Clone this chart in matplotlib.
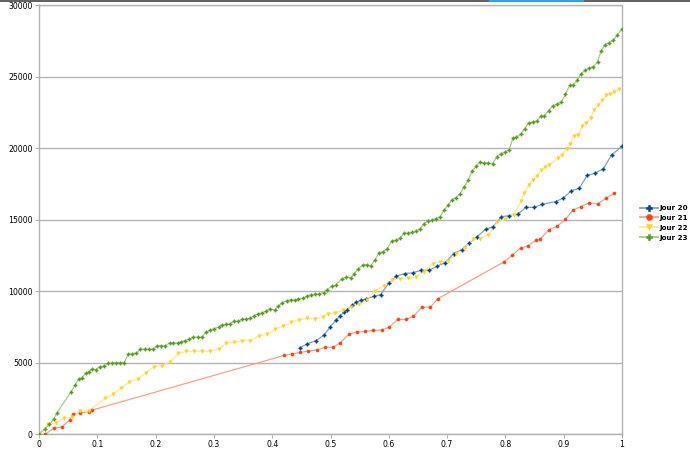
import matplotlib
matplotlib.use("Agg")
import matplotlib.pyplot as plt
from matplotlib.lines import Line2D

# ---- data ----
labels = ["Jour 20", "Jour 21", "Jour 22", "Jour 23"]

j20_x = [0.447, 0.460, 0.475, 0.489, 0.499, 0.509, 0.516, 0.523, 0.529, 0.537, 0.544, 0.553, 0.561,
         0.575, 0.586, 0.600, 0.612, 0.627, 0.641, 0.655, 0.669, 0.683, 0.697, 0.711, 0.725, 0.738,
         0.751, 0.766, 0.779, 0.793, 0.807, 0.821, 0.835, 0.849, 0.863, 0.886, 0.899, 0.913, 0.927,
         0.940, 0.954, 0.968, 0.982, 1.0]
j20_y = [6020, 6300, 6530, 6910, 7470, 7940, 8250, 8500, 8700, 8990, 9220, 9350, 9460,
         9630, 9740, 10560, 11030, 11220, 11270, 11450, 11450, 11730, 11990, 12620, 12880, 13370,
         13790, 14310, 14500, 15200, 15270, 15360, 15850, 15850, 16060, 16250, 16490, 17000, 17190,
         18080, 18240, 18550, 19510, 20120]

j21_x = [0.011, 0.025, 0.039, 0.053, 0.058, 0.071, 0.085, 0.091, 0.421, 0.434, 0.448, 0.462, 0.477,
         0.491, 0.504, 0.517, 0.532, 0.545, 0.559, 0.573, 0.588, 0.601, 0.615, 0.629, 0.642, 0.657,
         0.671, 0.684, 0.798, 0.812, 0.826, 0.839, 0.852, 0.859, 0.875, 0.889, 0.903, 0.916, 0.930,
         0.944, 0.958, 0.973, 0.986]
j21_y = [0, 400, 490, 970, 1380, 1470, 1560, 1670, 5500, 5600, 5710, 5800, 5880,
         6060, 6060, 6390, 7000, 7120, 7170, 7240, 7280, 7470, 8010, 8010, 8220, 8870,
         8870, 9460, 12040, 12510, 13020, 13140, 13560, 13610, 14300, 14540, 15010, 15670, 15900,
         16180, 16090, 16490, 16840]

j22_x = [0, 0.016, 0.029, 0.043, 0.057, 0.071, 0.085, 0.114, 0.127, 0.141, 0.155, 0.169, 0.183,
         0.197, 0.211, 0.225, 0.239, 0.253, 0.266, 0.280, 0.294, 0.308, 0.321, 0.335, 0.349, 0.362,
         0.377, 0.391, 0.405, 0.419, 0.432, 0.446, 0.460, 0.473, 0.487, 0.495, 0.508, 0.521, 0.535,
         0.549, 0.562, 0.576, 0.591, 0.605, 0.619, 0.633, 0.647, 0.660, 0.675, 0.688, 0.702, 0.716,
         0.731, 0.744, 0.757, 0.771, 0.786, 0.800, 0.814, 0.827, 0.832, 0.840, 0.847, 0.854, 0.861,
         0.868, 0.875, 0.890, 0.897, 0.905, 0.911, 0.918, 0.925, 0.932, 0.939, 0.946, 0.952, 0.959,
         0.966, 0.973, 0.980, 0.987, 0.994]
j22_y = [0, 700, 770, 1100, 1170, 1600, 1620, 2500, 2790, 3210, 3650, 3840, 4260,
         4710, 4780, 5060, 5640, 5780, 5780, 5780, 5780, 5950, 6350, 6420, 6530, 6530,
         6860, 6960, 7330, 7540, 7800, 7990, 8080, 8060, 8170, 8410, 8480, 8640, 8870,
         9080, 9390, 10000, 10330, 10770, 10870, 10900, 11000, 11350, 11900, 12030, 12100, 12600,
         13040, 13620, 13650, 13940, 14810, 15010, 15320, 16280, 16820, 17420, 17780, 18060, 18430,
         18670, 18830, 19300, 19530, 19930, 20310, 20870, 20890, 21570, 21760, 22110, 22650, 23020,
         23330, 23680, 23770, 23910, 24100]

j23_x = [0, 0.010, 0.018, 0.025, 0.031, 0.055, 0.062, 0.068, 0.073, 0.080, 0.086, 0.091, 0.098,
         0.104, 0.111, 0.119, 0.125, 0.132, 0.139, 0.146, 0.153, 0.160, 0.167, 0.174, 0.181, 0.189,
         0.196, 0.202, 0.209, 0.216, 0.224, 0.230, 0.238,
         0.244, 0.251, 0.258, 0.265, 0.272, 0.279, 0.286, 0.293, 0.300, 0.308, 0.314, 0.321, 0.328,
         0.334, 0.341, 0.348, 0.355, 0.362, 0.369, 0.376, 0.383, 0.389, 0.396, 0.404, 0.410, 0.417,
         0.425, 0.432, 0.439, 0.445, 0.452, 0.459, 0.466, 0.473, 0.480, 0.488, 0.494, 0.502, 0.509,
         0.519, 0.527, 0.535, 0.541, 0.548, 0.555, 0.562, 0.569, 0.576, 0.583, 0.590, 0.597, 0.605,
         0.612, 0.619, 0.626, 0.633, 0.639, 0.647, 0.654, 0.660, 0.667, 0.674, 0.681, 0.688, 0.695,
         0.702, 0.708, 0.715, 0.722, 0.729, 0.736,
         0.743, 0.750, 0.756, 0.763, 0.771, 0.778, 0.785, 0.792, 0.799, 0.806, 0.813, 0.819, 0.826,
         0.833, 0.840, 0.847, 0.854, 0.861, 0.867, 0.874, 0.881, 0.888, 0.896, 0.903, 0.910, 0.916,
         0.923, 0.930, 0.937, 0.944, 0.951, 0.958, 0.964, 0.971, 0.978, 0.985, 0.992, 1.0]
j23_y = [0, 350, 680, 1030, 1500, 2950, 3440, 3840, 3910, 4240, 4360, 4550, 4500,
         4710, 4750, 4940, 4940, 4990, 4990, 4990, 5570, 5620, 5640, 5950, 5920, 5920,
         5920, 6160, 6180, 6160, 6370, 6370, 6370,
         6460, 6530, 6630, 6770, 6770, 6750, 7120, 7240, 7360, 7470, 7640, 7660, 7710,
         7890, 7870, 8010, 8030, 8100, 8270, 8410, 8480, 8570, 8760, 8640, 8920, 9180,
         9320, 9400, 9350, 9440, 9490, 9630, 9740, 9770, 9790, 9890, 10100, 10330, 10400,
         10840, 10980, 10910, 11220, 11570, 11800, 11850, 11760, 12160, 12670, 12740, 12930, 13490,
         13540, 13680, 14030, 14030, 14100, 14190, 14350, 14690, 14920, 14970, 15060, 15200, 15670,
         16020, 16370, 16530, 16790, 17260, 17730,
         18410, 18710, 19020, 18950, 18950, 18900, 19370, 19600, 19700, 19880, 20680, 20750, 20980,
         21360, 21760, 21800, 21900, 22230, 22230, 22620, 22950, 23050, 23230, 23750, 24380, 24380,
         24730, 25200, 25440, 25580, 25690, 26020, 26790, 27230, 27370, 27540, 27910, 28310]

x_ticks = [0, 0.1, 0.2, 0.3, 0.4, 0.5, 0.6, 0.7, 0.8, 0.9, 1]
x_ticklabels = ["0", "0.1", "0.2", "0.3", "0.4", "0.5", "0.6", "0.7", "0.8", "0.9", "1"]
y_ticks = [0, 5000, 10000, 15000, 20000, 25000, 30000]

# ---- styling ----
colors = ["#004586", "#ff420e", "#ffd320", "#579d1c"]
light = ["#7fa2c3", "#ff9f86", "#ffe98f", "#a9cc8c"]
markers = ["P", "o", "v", "P"]
msizes = [2.5, 2.3, 2.6, 2.4]

fig = plt.figure(figsize=(6.9, 4.55), dpi=100)
ax = fig.add_axes([39 / 690, 1 - 434 / 455, 583 / 690, 429 / 455])

series = [(j20_x, j20_y), (j21_x, j21_y), (j22_x, j22_y), (j23_x, j23_y)]
handles = []
for (xs, ys), c, lc, m, ms, lab in zip(series, colors, light, markers, msizes, labels):
    ax.plot(xs, ys, color=lc, lw=0.9, zorder=3)
    ax.plot(xs, ys, ls="none", marker=m, ms=ms, color=c, mec=c, mew=0.3, zorder=4)
    handles.append(Line2D([0], [0], color=lc, lw=1.3, marker=m, ms=4.4,
                          mfc=c, mec=c, mew=0.4, label=lab))

ax.set_xlim(0, 1)
ax.set_ylim(0, 30000)
ax.set_xticks(x_ticks)
ax.set_xticklabels(x_ticklabels)
ax.set_yticks(y_ticks)
ax.set_yticklabels([str(v) for v in y_ticks])
ax.yaxis.grid(True, color="#b3b3b3", lw=1.0)
ax.set_axisbelow(True)
for s in ax.spines.values():
    s.set_color("#b3b3b3")
    s.set_linewidth(1.0)
ax.tick_params(axis="both", direction="out", length=3, width=0.8, color="#b3b3b3",
               labelsize=5.6, labelcolor="#000000", pad=1.5)

leg = fig.legend(handles=handles, loc="upper left", bbox_to_anchor=(640 / 690, 1 - 205 / 455),
                 frameon=False, prop={"size": 5.1, "weight": "bold"}, handlelength=2.5,
                 handletextpad=0.25, labelspacing=0.55, borderpad=0, borderaxespad=0)

# window border artefact at top of the screenshot
fig.add_artist(Line2D([0, 1], [1 - 0.8 / 455, 1 - 0.8 / 455], transform=fig.transFigure,
                      color="#5f5f5f", lw=1.4))
fig.add_artist(Line2D([490 / 690, 583 / 690], [1 - 0.8 / 455, 1 - 0.8 / 455],
                      transform=fig.transFigure, color="#3d9be0", lw=1.6))

fig.savefig("out.png", dpi=100)
